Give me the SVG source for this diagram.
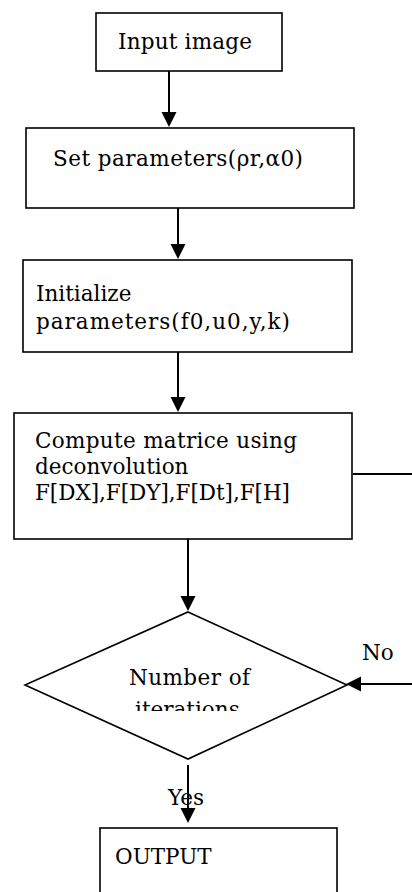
<svg xmlns="http://www.w3.org/2000/svg" width="412" height="892" viewBox="0 0 412 892">
<style>
.box{fill:#fff;stroke:#000;stroke-width:1.6}
.t{font-family:"DejaVu Serif","Liberation Serif",serif;font-size:21.5px;fill:#000}
.ln{stroke:#000;stroke-width:2;fill:none}
.hd{fill:#000;stroke:none}
</style>
<defs>
<clipPath id="dclip"><rect x="0" y="600" width="412" height="111"/></clipPath>
</defs>
<rect width="412" height="892" fill="#fff"/>
<g id="connectors">
<line class="ln" x1="169" y1="71" x2="169" y2="113"/>
<polygon class="hd" points="161.5,112 176.5,112 169,127"/>
<line class="ln" x1="178" y1="208" x2="178" y2="245"/>
<polygon class="hd" points="170.5,244 185.5,244 178,259"/>
<line class="ln" x1="178" y1="352" x2="178" y2="398"/>
<polygon class="hd" points="170.5,397 185.5,397 178,412"/>
<line class="ln" x1="188" y1="539" x2="188" y2="597"/>
<polygon class="hd" points="180.5,596 195.5,596 188,611"/>
<line class="ln" x1="353" y1="474" x2="412" y2="474"/>
<line class="ln" x1="412" y1="684" x2="360" y2="684"/>
<polygon class="hd" points="346,684 361,676.5 361,691.5"/>
<line class="ln" x1="188" y1="765" x2="188" y2="809"/>
<polygon class="hd" points="180.5,808 195.5,808 188,823"/>
<text class="t" x="362" y="660">No</text>
<text class="t" x="168" y="805">Yes</text>
</g>
<g id="input">
<rect class="box" x="96" y="13" width="186" height="58"/>
<text class="t" x="118" y="49" textLength="134">Input image</text>
</g>
<g id="setparams">
<rect class="box" x="26" y="128" width="328" height="80"/>
<text class="t" x="53" y="166" textLength="250">Set parameters(ρr,α0)</text>
</g>
<g id="init">
<rect class="box" x="23" y="260" width="329" height="92"/>
<text class="t" x="36" y="301">Initialize</text>
<text class="t" x="36" y="329" textLength="254">parameters(f0,u0,y,k)</text>
</g>
<g id="compute">
<rect class="box" x="14" y="413" width="338" height="126"/>
<text class="t" x="35" y="448" textLength="262">Compute matrice using</text>
<text class="t" x="35" y="474">deconvolution</text>
<text class="t" x="35" y="500" textLength="255">F[DX],F[DY],F[Dt],F[H]</text>
</g>
<g id="decision">
<polygon class="box" points="188,612 347,685 188,759 25,685"/>
<text class="t" x="129" y="685" textLength="121">Number of</text>
<text class="t" x="135" y="717" clip-path="url(#dclip)">iterations</text>
</g>
<g id="output">
<rect class="box" x="100" y="828" width="237" height="80"/>
<text class="t" x="115" y="864">OUTPUT</text>
</g>
</svg>
